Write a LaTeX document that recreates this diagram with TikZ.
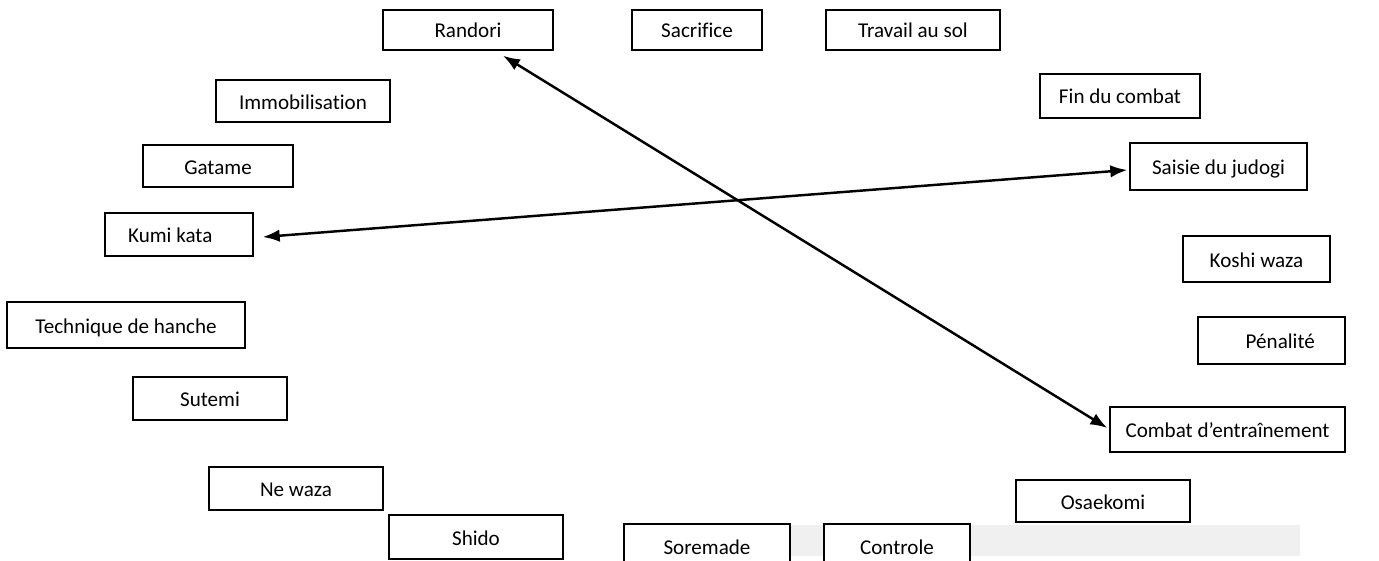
\documentclass[tikz,border=0pt]{standalone}
\usepackage{fontspec}
\setmainfont[Ligatures=NoCommon]{Carlito}
\usetikzlibrary{calc,positioning,arrows.meta}

\begin{document}
\begin{tikzpicture}[x=0.02cm, y=-0.02cm,
  mot/.style={draw,fill=white,line width=0.8pt,inner sep=0pt,minimum height=0.86cm,text height=0.36cm,text depth=0.04cm,font=\fontsize{12}{14}\selectfont},
  lien/.style={{Latex[length=0.34cm,width=0.25cm]}-{Latex[length=0.34cm,width=0.25cm]},line width=1.4pt}]
  \useasboundingbox (0,0) rectangle (1379,561);
  % fond gris en bas
  \fill[black!6] (790,525) rectangle (1300,556);

  % colonne de gauche
  \node[mot,minimum width=3.48cm,minimum height=0.84cm] (immo) at (303,101) {Immobilisation};
  \node[mot,minimum width=3.0cm,minimum height=0.84cm] (gatame) at (218,166) {Gatame};
  \node[mot,minimum width=2.96cm] (kumi) at (179,234.5) {\hspace*{-0.35cm}Kumi kata};
  \node[mot,minimum width=4.76cm,minimum height=0.92cm] (hanche) at (126,325) {Technique de hanche};
  \node[mot,minimum width=3.08cm] (sutemi) at (210,398.5) {Sutemi};
  \node[mot,minimum width=3.48cm] (newaza) at (296,488.5) {Ne waza};
  \node[mot,minimum width=3.48cm,minimum height=0.88cm] (shido) at (476,537) {Shido};

  % ligne du haut
  \node[mot,minimum width=3.4cm,minimum height=0.8cm] (randori) at (468,30) {Randori};
  \node[mot,minimum width=2.6cm,minimum height=0.8cm] (sacrifice) at (697,30) {Sacrifice};
  \node[mot,minimum width=3.48cm,minimum height=0.8cm] (travail) at (913,30) {Travail au sol};

  % colonne de droite
  \node[mot,minimum width=3.2cm,minimum height=0.88cm] (fin) at (1120,96) {Fin du combat};
  \node[mot,minimum width=3.54cm,minimum height=0.94cm] (saisie) at (1218.5,166.5) {Saisie du judogi};
  \node[mot,minimum width=2.94cm,minimum height=0.92cm] (koshi) at (1256.5,259) {Koshi waza};
  \node[mot,minimum width=2.94cm,minimum height=0.94cm] (penalite) at (1271.5,340.5) {\hspace*{0.35cm}Pénalité};
  \node[mot,minimum width=4.7cm,minimum height=0.9cm] (combat) at (1227.5,429.5) {Combat d’entraînement};
  \node[mot,minimum width=3.48cm,minimum height=0.84cm] (osaekomi) at (1103,501) {Osaekomi};

  % ligne du bas (coupee)
  \node[mot,minimum width=3.32cm,minimum height=0.88cm] (soremade) at (707,546) {Soremade};
  \node[mot,minimum width=2.92cm,minimum height=0.88cm] (controle) at (897,546) {Controle};

  % fleches
  \draw[lien] ($(randori.south)+(35,5)$) -- ($(combat.west)+(-2,-1.5)$);
  \draw[lien] ($(kumi.east)+(9,2.5)$) -- ($(saisie.west)+(-2,3.5)$);
\end{tikzpicture}
\end{document}
